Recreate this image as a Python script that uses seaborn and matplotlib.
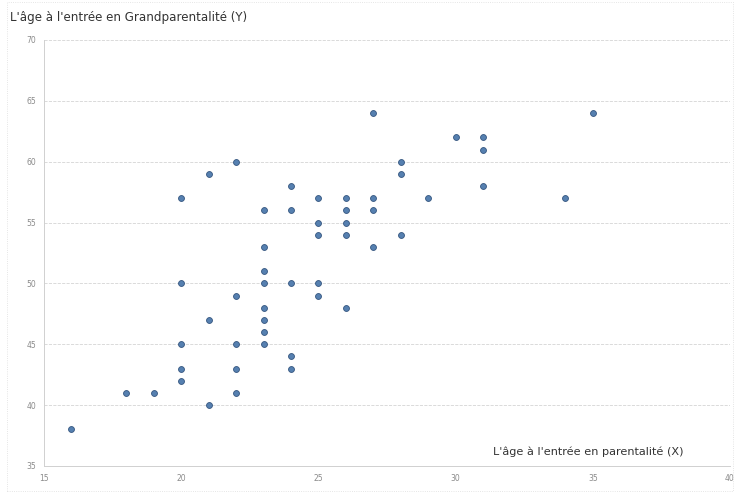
import matplotlib
matplotlib.use("Agg")
import matplotlib.pyplot as plt
import matplotlib.patches as mpatches
import pandas as pd
import seaborn as sns

# ages: parent entry (X) vs grandparent entry (Y)
age_parent = [16,
              18, 19,
              20, 20, 20, 20, 20,
              21, 21, 21,
              22, 22, 22, 22, 22,
              23, 23, 23, 23, 23, 23, 23, 23,
              24, 24, 24, 24, 24,
              25, 25, 25, 25, 25,
              26, 26, 26, 26, 26,
              27, 27, 27, 27,
              28, 28, 28,
              29,
              30,
              31, 31, 31,
              34,
              35]
age_grandparent = [38,
                   41, 41,
                   57, 50, 45, 43, 42,
                   59, 47, 40,
                   60, 49, 45, 43, 41,
                   56, 53, 51, 50, 48, 47, 46, 45,
                   58, 56, 50, 44, 43,
                   57, 55, 54, 50, 49,
                   57, 56, 55, 54, 48,
                   64, 57, 56, 53,
                   60, 59, 54,
                   57,
                   62,
                   62, 61, 58,
                   57,
                   64]

x_ticks = [15, 20, 25, 30, 35, 40]
y_ticks = [35, 40, 45, 50, 55, 60, 65, 70]

df = pd.DataFrame({"x": age_parent, "y": age_grandparent})

sns.set_style("white")
plt.rcParams['font.family'] = ['DejaVu Sans']

fig = plt.figure(figsize=(7.37, 4.93), dpi=100)
ax = fig.add_axes([0.0597, 0.0548, 0.9308, 0.8641])

sns.scatterplot(data=df, x="x", y="y", ax=ax, s=18, color="#5680b0",
                edgecolor="#34557f", linewidth=0.6, zorder=3)

ax.set_xlim(15, 40)
ax.set_ylim(35, 70)
ax.set_xticks(x_ticks)
ax.set_yticks(y_ticks)
ax.tick_params(axis="both", labelsize=5.5, colors="#8a8a8a", length=2, width=0.6)
ax.set_xlabel("")
ax.set_ylabel("")
ax.yaxis.grid(True, color="#d4d4d4", linestyle="--", linewidth=0.6)
ax.xaxis.grid(False)
for side in ["top", "right"]:
    ax.spines[side].set_visible(False)
for side in ["left", "bottom"]:
    ax.spines[side].set_color("#d0d0d0")
    ax.spines[side].set_linewidth(0.7)

fig.text(0.013, 0.965, "L'âge à l'entrée en Grandparentalité (Y)",
         fontsize=8.6, color="#333333", va="center", ha="left")
ax.text(0.655, 0.034, "L'âge à l'entrée en parentalité (X)", transform=ax.transAxes,
        fontsize=8.1, color="#333333", va="center", ha="left")

# faint border of the chart area
fig.patches.append(mpatches.Rectangle((0.01, 0.005), 0.985, 0.99, transform=fig.transFigure,
                                      fill=False, edgecolor="#dddddd", linestyle=":", linewidth=0.6))

fig.savefig("out.png", dpi=100)
